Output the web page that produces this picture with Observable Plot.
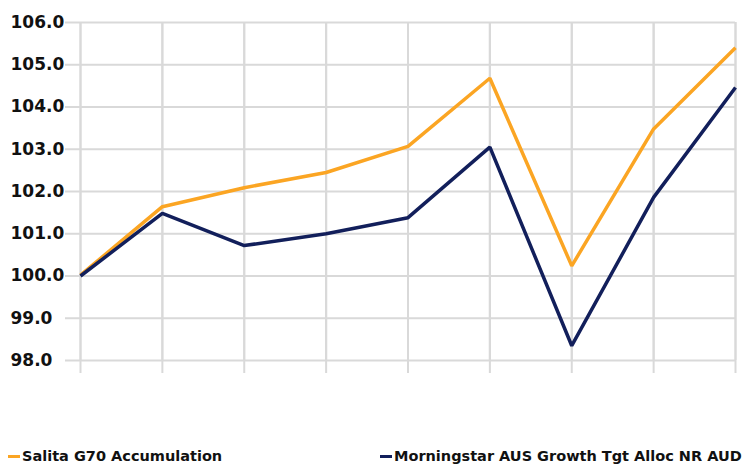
<!DOCTYPE html>
<html>
<head>
<meta charset="utf-8">
<script src="https://cdn.jsdelivr.net/npm/d3@7"></script>
<script src="https://cdn.jsdelivr.net/npm/@observablehq/plot@0.6"></script>
<style>
  html, body { margin: 0; padding: 0; background: #fff; }
  #wrap { position: relative; width: 747px; height: 464px; }
  #legend { position: absolute; left: 0; top: 440px; width: 747px; height: 24px;
    font-family: "DejaVu Sans", sans-serif; font-weight: bold; font-size: 14.5px; color: #111; }
  .item { position: absolute; top: 6px; white-space: nowrap; line-height: 20px; }
  .sw { display: inline-block; width: 12px; height: 3px; vertical-align: middle; margin-right: 2px; position: relative; top: -1px; }
</style>
</head>
<body>
<div id="wrap"><div id="chart"></div><div id="legend"></div></div>
<script>
const periods = [0, 1, 2, 3, 4, 5, 6, 7, 8];
const seriesNames = ["Salita G70 Accumulation", "Morningstar AUS Growth Tgt Alloc NR AUD"];
const salita = [100.02, 101.64, 102.09, 102.45, 103.07, 104.68, 100.24, 103.48, 105.40];
const morningstar = [100.0, 101.48, 100.72, 101.0, 101.38, 103.05, 98.35, 101.86, 104.46];
const yTicks = [98, 99, 100, 101, 102, 103, 104, 105, 106];
const colors = ["#FBA523", "#121F5B"];

const data = [];
periods.forEach((p, i) => {
  data.push({period: p, value: salita[i], series: seriesNames[0]});
  data.push({period: p, value: morningstar[i], series: seriesNames[1]});
});

const grid = "#d9d9d9";
const chart = Plot.plot({
  width: 747,
  height: 440,
  marginLeft: 80,
  marginRight: 12,
  marginTop: 22,
  marginBottom: 80,
  style: {fontFamily: "DejaVu Sans, sans-serif", fontWeight: "bold", fontSize: "17px", color: "#111"},
  x: {domain: [0, 8], axis: null},
  y: {domain: [98, 106], axis: null},
  color: {domain: seriesNames, range: colors},
  marks: [
    Plot.gridX(periods, {stroke: grid, strokeOpacity: 1, strokeWidth: 2}),
    Plot.tickX(periods, {x: d => d, y1: 98, y2: 98, stroke: grid, strokeWidth: 2, insetBottom: -13}),
    Plot.gridY(yTicks, {stroke: grid, strokeOpacity: 1, strokeWidth: 2, insetLeft: -15}),
    Plot.axisY(yTicks, {anchor: "left", tickSize: 0, tickPadding: 70, textAnchor: "start",
      tickFormat: d => d.toFixed(1), fill: "#111", fontWeight: "bold", label: null}),
    Plot.line(data, {x: "period", y: "value", stroke: "series", z: "series", strokeWidth: 3.5,
      strokeLinejoin: "miter", strokeLinecap: "butt"})
  ]
});
document.getElementById("chart").appendChild(chart);

const legend = document.getElementById("legend");
const lx = [8, 380];
seriesNames.forEach((name, i) => {
  const it = document.createElement("div");
  it.className = "item";
  it.style.left = lx[i] + "px";
  it.innerHTML = `<span class="sw" style="background:${colors[i]}"></span>${name}`;
  legend.appendChild(it);
});
</script>
</body>
</html>
